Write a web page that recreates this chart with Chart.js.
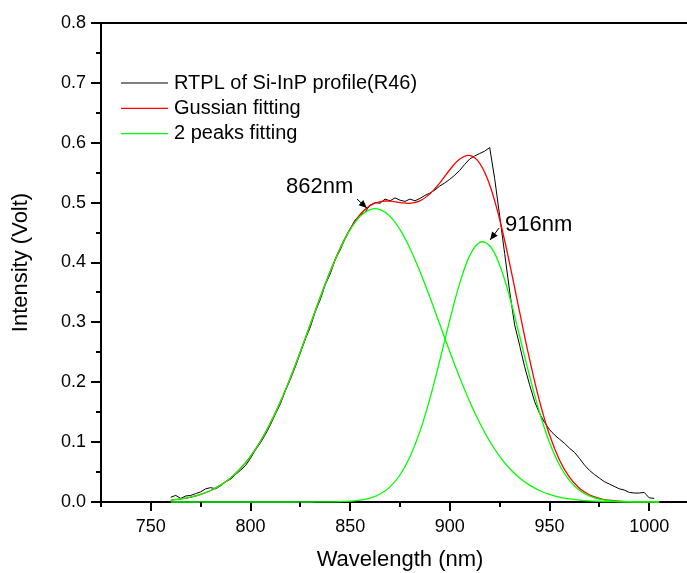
<!DOCTYPE html>
<html>
<head>
<meta charset="utf-8">
<script src="https://cdn.jsdelivr.net/npm/chart.js@4.4.0/dist/chart.umd.min.js"></script>
<style>
html, body { margin: 0; padding: 0; overflow: hidden; background: #fff; }
#crop { width: 687px; height: 573px; overflow: hidden; }
</style>
</head>
<body>
<div id="crop"><canvas id="pl-chart" width="700" height="573"></canvas></div>
<script>
// fitted curves, sampled every 5 nm
const fit_wavelength = [760, 765, 770, 775, 780, 785, 790, 795, 800, 805, 810, 815, 820, 825, 830, 835, 840, 845, 850, 855,
    860, 865, 870, 875, 880, 885, 890, 895, 900, 905, 910, 915, 920, 925, 930, 935, 940, 945, 950, 955,
    960, 965, 970, 975, 980, 985, 990, 995, 1000, 1005];
const gauss_fit = [0.0033, 0.0053, 0.0083, 0.0128, 0.0192, 0.0281, 0.0401, 0.0560, 0.0763, 0.1015, 0.1319, 0.1673, 0.2074, 0.2508, 0.2963, 0.3419, 0.3852, 0.4240, 0.4562, 0.4801,
    0.4950, 0.5018, 0.5024, 0.5000, 0.4989, 0.5029, 0.5146, 0.5331, 0.5549, 0.5729, 0.5788, 0.5656, 0.5295, 0.4718, 0.3983, 0.3174, 0.2385, 0.1686, 0.1122, 0.0702,
    0.0414, 0.0230, 0.0121, 0.0060, 0.0029, 0.0013, 0.0006, 0.0002, 0.0002, 0.0000];
const peak_862 = [0.0033, 0.0053, 0.0083, 0.0128, 0.0192, 0.0281, 0.0401, 0.0560, 0.0763, 0.1015, 0.1319, 0.1673, 0.2074, 0.2508, 0.2963, 0.3419, 0.3850, 0.4235, 0.4549, 0.4771,
    0.4885, 0.4885, 0.4771, 0.4549, 0.4235, 0.3850, 0.3419, 0.2963, 0.2508, 0.2074, 0.1673, 0.1319, 0.1015, 0.0763, 0.0560, 0.0401, 0.0281, 0.0192, 0.0128, 0.0083,
    0.0053, 0.0033, 0.0020, 0.0012, 0.0007, 0.0004, 0.0002, 0.0001, 0.0001, 0.0000];
const peak_916 = [0, 0, 0, 0, 0, 0, 0, 0, 0, 0, 0, 0, 0, 0, 0.0000, 0.0001, 0.0002, 0.0005, 0.0013, 0.0030,
    0.0065, 0.0133, 0.0253, 0.0451, 0.0754, 0.1179, 0.1727, 0.2368, 0.3041, 0.3655, 0.4115, 0.4337, 0.4280, 0.3955, 0.3423, 0.2773, 0.2104, 0.1494, 0.0994, 0.0619,
    0.0361, 0.0197, 0.0101, 0.0048, 0.0022, 0.0009, 0.0004, 0.0001, 0.0001, 0.0000];

// measured RTPL spectrum
const rtpl_wavelength = [760, 762.5, 765, 767.5, 770, 772.5, 775, 777.5, 780, 782.5, 785, 787.5, 790, 792.5, 795, 797.5,
    800, 802.5, 805, 807.5, 810, 812.5, 815, 817.5, 820, 822.5, 825, 827.5, 830, 832.5, 835, 837.5,
    840, 842.5, 845, 847.5, 850, 852.5, 855, 857.5, 860, 862.5, 865, 867.5, 870, 872.5, 875, 877.5,
    880, 882.5, 885, 887.5, 890, 892.5, 895, 897.5, 900, 902.5, 905, 907.5, 910, 912.5, 915, 917.5,
    920, 922.5, 925, 927.5, 930, 932.5, 935, 937.5, 940, 942.5, 945, 947.5, 950, 952.5, 955, 957.5,
    960, 962.5, 965, 967.5, 970, 972.5, 975, 977.5, 980, 982.5, 985, 987.5, 990, 992.5, 995, 997.5,
    1000, 1002.5];
const rtpl_intensity = [0.008, 0.011, 0.006, 0.010, 0.011, 0.014, 0.017, 0.022, 0.024, 0.022, 0.027, 0.034, 0.038, 0.046, 0.053, 0.061,
    0.073, 0.087, 0.099, 0.113, 0.129, 0.147, 0.164, 0.186, 0.205, 0.226, 0.249, 0.272, 0.292, 0.318, 0.338, 0.363,
    0.381, 0.405, 0.421, 0.440, 0.456, 0.471, 0.479, 0.484, 0.496, 0.500, 0.499, 0.506, 0.503, 0.508, 0.504, 0.502,
    0.506, 0.503, 0.507, 0.512, 0.516, 0.521, 0.528, 0.533, 0.539, 0.546, 0.554, 0.564, 0.573, 0.578, 0.582, 0.586,
    0.592, 0.540, 0.478, 0.415, 0.352, 0.296, 0.262, 0.226, 0.196, 0.168, 0.148, 0.133, 0.121, 0.112, 0.105, 0.098,
    0.090, 0.083, 0.073, 0.062, 0.053, 0.046, 0.040, 0.034, 0.030, 0.026, 0.022, 0.020, 0.016, 0.015, 0.015, 0.016,
    0.007, 0.006];

const x_ticks = [750, 800, 850, 900, 950, 1000];
const x_minor = [725, 775, 825, 875, 925, 975, 1025];
const y_ticks = [0, 0.1, 0.2, 0.3, 0.4, 0.5, 0.6, 0.7, 0.8];
const y_minor = [0.05, 0.15, 0.25, 0.35, 0.45, 0.55, 0.65, 0.75];

const legend_labels = ['RTPL of Si-InP profile(R46)', 'Gussian fitting', '2 peaks fitting'];
const legend_colors = ['#000000', '#ff0000', '#00ff00'];

// peak labels: text anchor and arrow tail/tip in data units
const peak_notes = [
    {text: '862nm', at: [817.8, 0.516], from: [853.4, 0.506], to: [858.4, 0.491]},
    {text: '916nm', at: [927.7, 0.453], from: [924.7, 0.4576], to: [920.2, 0.4376]}
];

const FONT = "'Liberation Sans', Arial, sans-serif";

function toPoints(xs, ys){
    return xs.map((x, i) => ({x: x, y: ys[i]}));
}

const decorations = {
    id: 'decorations',
    afterDraw(chart){
        const ctx = chart.ctx;
        const area = chart.chartArea;
        const xs = chart.scales.x;
        const ys = chart.scales.y;
        ctx.save();
        ctx.strokeStyle = '#000';
        ctx.lineWidth = 2;
        // top frame line
        ctx.beginPath();
        ctx.moveTo(area.left - 1, area.top);
        ctx.lineTo(area.right + 1, area.top);
        ctx.moveTo(area.right, area.top);
        ctx.lineTo(area.right, area.bottom);
        ctx.stroke();
        // minor ticks
        ctx.beginPath();
        for (const v of x_minor){
            const px = Math.round(xs.getPixelForValue(v));
            ctx.moveTo(px, area.bottom);
            ctx.lineTo(px, area.bottom + 5);
        }
        for (const v of y_minor){
            const py = Math.round(ys.getPixelForValue(v));
            ctx.moveTo(area.left - 5, py);
            ctx.lineTo(area.left, py);
        }
        ctx.stroke();

        // legend
        ctx.font = '20px ' + FONT;
        ctx.textBaseline = 'middle';
        ctx.textAlign = 'left';
        for (let i = 0; i < legend_labels.length; i++){
            const ly = area.top + 60 + i * 25.3;
            ctx.strokeStyle = legend_colors[i];
            ctx.lineWidth = 1.2;
            ctx.beginPath();
            ctx.moveTo(area.left + 20, ly);
            ctx.lineTo(area.left + 67, ly);
            ctx.stroke();
            ctx.fillStyle = '#000';
            ctx.fillText(legend_labels[i], area.left + 73, ly);
        }

        // peak annotations
        ctx.font = '22px ' + FONT;
        ctx.textBaseline = 'alphabetic';
        for (const note of peak_notes){
            ctx.fillStyle = '#000';
            ctx.fillText(note.text, xs.getPixelForValue(note.at[0]), ys.getPixelForValue(note.at[1]));
            const x0 = xs.getPixelForValue(note.from[0]), y0 = ys.getPixelForValue(note.from[1]);
            const x1 = xs.getPixelForValue(note.to[0]), y1 = ys.getPixelForValue(note.to[1]);
            const ang = Math.atan2(y1 - y0, x1 - x0);
            ctx.strokeStyle = '#000';
            ctx.lineWidth = 1;
            ctx.beginPath();
            ctx.moveTo(x0, y0);
            ctx.lineTo(x1, y1);
            ctx.stroke();
            ctx.beginPath();
            ctx.moveTo(x1, y1);
            ctx.lineTo(x1 - 8 * Math.cos(ang) + 3.5 * Math.sin(ang), y1 - 8 * Math.sin(ang) - 3.5 * Math.cos(ang));
            ctx.lineTo(x1 - 8 * Math.cos(ang) - 3.5 * Math.sin(ang), y1 - 8 * Math.sin(ang) + 3.5 * Math.cos(ang));
            ctx.closePath();
            ctx.fill();
        }
        ctx.restore();
    }
};

const ctx = document.getElementById('pl-chart').getContext('2d');
const pl_chart = new Chart(ctx, {
    type: 'line',
    data: {
        datasets: [
            {label: '2 peaks fitting', data: toPoints(fit_wavelength, peak_862), borderColor: '#00ff00', borderWidth: 1.3, pointRadius: 0, tension: 0.4, clip: false},
            {label: '2 peaks fitting', data: toPoints(fit_wavelength, peak_916), borderColor: '#00ff00', borderWidth: 1.3, pointRadius: 0, tension: 0.4, clip: false},
            {label: 'Gussian fitting', data: toPoints(fit_wavelength, gauss_fit), borderColor: '#ff0000', borderWidth: 1.3, pointRadius: 0, tension: 0.4, clip: false},
            {label: 'RTPL of Si-InP profile(R46)', data: toPoints(rtpl_wavelength, rtpl_intensity), borderColor: '#000000', borderWidth: 1, pointRadius: 0, tension: 0, clip: false}
        ]
    },
    options: {
        responsive: false,
        animation: false,
        devicePixelRatio: 1,
        layout: {padding: {top: 23, left: 0, right: 1, bottom: 0}},
        plugins: {legend: {display: false}, tooltip: {enabled: false}},
        scales: {
            x: {
                type: 'linear', min: 725, max: 1025,
                afterBuildTicks: (s) => { s.ticks = x_ticks.map(v => ({value: v})); },
                afterFit: (s) => { s.height = 71; },
                border: {color: '#000', width: 2},
                grid: {drawOnChartArea: false, drawTicks: true, tickLength: 9, color: '#000', lineWidth: 2},
                ticks: {color: '#000', font: {size: 18, family: FONT}, padding: 5, maxRotation: 0, autoSkip: false, callback: (v) => String(v)},
                title: {display: true, text: 'Wavelength (nm)', color: '#000', font: {size: 22, family: FONT}, padding: {top: 0, bottom: 0}}
            },
            y: {
                min: 0, max: 0.8,
                afterBuildTicks: (s) => { s.ticks = y_ticks.map(v => ({value: v})); },
                afterFit: (s) => { s.width = 101; },
                border: {color: '#000', width: 2},
                grid: {drawOnChartArea: false, drawTicks: true, tickLength: 10, color: '#000', lineWidth: 2},
                ticks: {color: '#000', font: {size: 18, family: FONT}, padding: 5, callback: (v) => v.toFixed(1)},
                title: {display: true, text: 'Intensity (Volt)', color: '#000', font: {size: 22, family: FONT}, padding: {top: 8, bottom: 0}}
            }
        }
    },
    plugins: [decorations]
});
</script>
</body>
</html>
